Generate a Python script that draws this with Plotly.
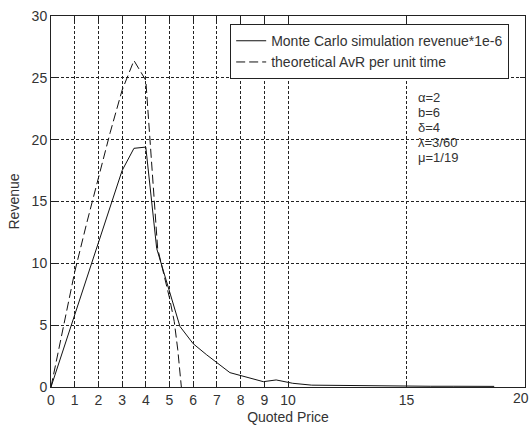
import plotly.graph_objects as go

mc_x = [0, 0.9, 2.0, 3.0, 3.5, 4.0, 4.46, 5.0, 5.44, 6.0, 6.57, 7.55, 8.96, 9.5, 10.2, 11.0, 12.0, 13.0, 14.0, 15.0, 16.0, 17.0, 18.0, 18.7]
mc_y = [0, 5.2, 11.6, 17.5, 19.3, 19.4, 11.2, 7.8, 4.9, 3.5, 2.6, 1.16, 0.43, 0.57, 0.3, 0.15, 0.12, 0.1, 0.08, 0.07, 0.06, 0.06, 0.05, 0.05]

th_x = [0, 0.5, 1.0, 1.5, 2.0, 2.5, 3.0, 3.5, 4.0, 4.1, 4.32, 4.5, 5.0, 5.2, 5.35, 5.5]
th_y = [0, 4.7, 9.3, 13.2, 17.0, 20.6, 24.0, 26.4, 24.8, 22.1, 16.2, 11.2, 7.2, 5.3, 3.0, 0]

x_ticks = [0, 1, 2, 3, 4, 5, 6, 7, 8, 9, 10, 15, 20]
y_ticks = [0, 5, 10, 15, 20, 25, 30]
params = ["α=2", "b=6", "δ=4", "λ=3/60", "μ=1/19"]

font = dict(family="Liberation Sans, Arial, sans-serif", size=14, color="#333")
pfont = dict(family="Liberation Sans, Arial, sans-serif", size=13, color="#333")

fig = go.Figure()
fig.add_trace(go.Scatter(x=mc_x, y=mc_y, mode="lines", name="Monte Carlo simulation revenue*1e-6",
                         line=dict(color="#111", width=1)))
fig.add_trace(go.Scatter(x=th_x, y=th_y, mode="lines", name="theoretical AvR per unit time",
                         line=dict(color="#111", width=1, dash="9px,4px")))

for i, p in enumerate(params):
    fig.add_annotation(x=15.4, y=23.4 - i * 1.22, xref="x", yref="y", text=p, showarrow=False,
                       xanchor="left", yanchor="middle", align="left", font=pfont)

# last x tick label sits on the figure edge; draw it as text so it stays visible
fig.add_annotation(x=x_ticks[-1], y=0, xref="x", yref="paper", text=str(x_ticks[-1]), showarrow=False,
                   xanchor="center", yanchor="top", yshift=-1, xshift=-4, font=font)

axis_common = dict(showline=True, linecolor="#222", linewidth=1, mirror="ticks", ticks="inside",
                   ticklen=5, tickcolor="#222", showgrid=True, gridcolor="#222", gridwidth=1,
                   griddash="3px,2px", zeroline=False, tickfont=font, automargin=False)

fig.update_xaxes(range=[0, 20], tickvals=x_ticks, ticktext=[str(v) for v in x_ticks[:-1]] + [""],
                 title=dict(text="Quoted Price", font=font, standoff=11), **axis_common)
fig.update_yaxes(range=[0, 30], tickvals=y_ticks,
                 title=dict(text="Revenue", font=font, standoff=8), **axis_common)

fig.update_layout(
    width=531, height=425,
    margin=dict(l=51, r=6, t=16, b=38),
    plot_bgcolor="white", paper_bgcolor="white",
    font=font,
    legend=dict(x=0.378, y=0.978, xanchor="left", yanchor="top", bordercolor="#222", borderwidth=1,
                bgcolor="white", font=font, tracegroupgap=0, itemwidth=30),
    showlegend=True,
)

fig.write_html("out.html")
